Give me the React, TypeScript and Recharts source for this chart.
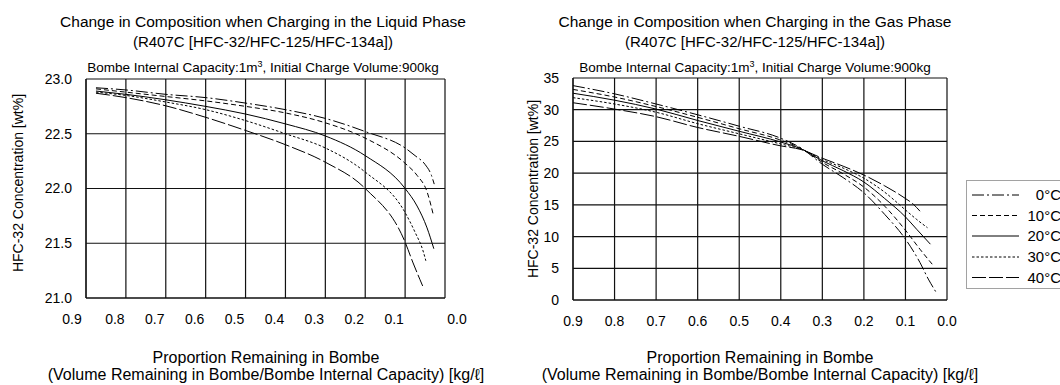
import React from 'react';
import { LineChart, Line, XAxis, YAxis, CartesianGrid } from 'recharts';

const FONT = '"Liberation Sans", Arial, Helvetica, sans-serif';

// Series (temperatures)
const seriesNames = ['0°C', '10°C', '20°C', '30°C', '40°C'];

// Liquid phase charging: proportion remaining (x) vs HFC-32 wt% (y)
const liquid0X = [0.875, 0.8, 0.7, 0.6, 0.5, 0.4, 0.3, 0.2, 0.1, 0.075, 0.05, 0.034, 0.027];
const liquid0Y = [22.92, 22.9, 22.86, 22.83, 22.78, 22.72, 22.64, 22.52, 22.37, 22.3, 22.22, 22.12, 22.04];
const liquid10X = [0.875, 0.8, 0.7, 0.6, 0.5, 0.4, 0.3, 0.2, 0.1, 0.07, 0.045, 0.03];
const liquid10Y = [22.91, 22.88, 22.84, 22.8, 22.75, 22.69, 22.6, 22.46, 22.23, 22.12, 21.97, 21.77];
const liquid20X = [0.875, 0.8, 0.7, 0.6, 0.5, 0.4, 0.3, 0.2, 0.1, 0.07, 0.045, 0.028];
const liquid20Y = [22.89, 22.86, 22.81, 22.75, 22.68, 22.59, 22.48, 22.3, 22.0, 21.84, 21.64, 21.45];
const liquid30X = [0.875, 0.8, 0.7, 0.6, 0.5, 0.4, 0.3, 0.2, 0.1, 0.075, 0.055, 0.048];
const liquid30Y = [22.88, 22.85, 22.79, 22.72, 22.62, 22.5, 22.37, 22.15, 21.78, 21.6, 21.43, 21.34];
const liquid40X = [0.875, 0.8, 0.7, 0.6, 0.5, 0.4, 0.3, 0.2, 0.1, 0.08, 0.063, 0.056];
const liquid40Y = [22.87, 22.83, 22.755, 22.65, 22.53, 22.4, 22.24, 22.0, 21.51, 21.32, 21.17, 21.11];

// Gas phase charging
const gas0X = [0.9, 0.8, 0.7, 0.6, 0.5, 0.4, 0.35, 0.3, 0.25, 0.2, 0.15, 0.1, 0.065, 0.045, 0.027];
const gas0Y = [33.8, 32.5, 30.9, 29.2, 27.4, 25.5, 23.9, 21.4, 19.3, 16.9, 13.5, 9.6, 5.9, 3.3, 1.3];
const gas10X = [0.9, 0.8, 0.7, 0.6, 0.5, 0.4, 0.35, 0.3, 0.25, 0.2, 0.15, 0.1, 0.065, 0.0325];
const gas10Y = [33.2, 32.0, 30.5, 28.8, 27.0, 25.2, 23.85, 21.7, 19.9, 17.8, 14.8, 11.0, 8.0, 5.4];
const gas20X = [0.9, 0.8, 0.7, 0.6, 0.5, 0.4, 0.35, 0.3, 0.25, 0.2, 0.15, 0.1, 0.073, 0.04];
const gas20Y = [32.6, 31.5, 30.1, 28.3, 26.6, 24.9, 23.8, 21.95, 20.4, 18.6, 16.0, 13.1, 11.15, 8.8];
const gas30X = [0.9, 0.8, 0.7, 0.6, 0.5, 0.4, 0.35, 0.3, 0.25, 0.2, 0.15, 0.1, 0.073, 0.047];
const gas30Y = [31.9, 30.9, 29.6, 27.8, 26.2, 24.6, 23.75, 22.15, 20.8, 19.2, 17.0, 14.2, 12.7, 11.4];
const gas40X = [0.9, 0.8, 0.7, 0.6, 0.5, 0.4, 0.35, 0.3, 0.25, 0.2, 0.15, 0.1, 0.081, 0.065];
const gas40Y = [31.1, 30.1, 28.9, 27.2, 25.8, 24.3, 23.7, 22.35, 21.1, 19.7, 18.0, 16.0, 15.1, 14.0];

// Tick values
const xTicks = [0.9, 0.8, 0.7, 0.6, 0.5, 0.4, 0.3, 0.2, 0.1, 0.0];
const liquidYTicks = [21.0, 21.5, 22.0, 22.5, 23.0];
const gasYTicks = [0, 5, 10, 15, 20, 25, 30, 35];

// Line styles per series
const dashStyles = ['12 3 2 3', '5 3', '', '2.5 2', '14 3'];

const toPoints = (xs: number[], ys: number[]) => xs.map((x, i) => ({ x, y: ys[i] }));

const liquidSeries = [
  toPoints(liquid0X, liquid0Y),
  toPoints(liquid10X, liquid10Y),
  toPoints(liquid20X, liquid20Y),
  toPoints(liquid30X, liquid30Y),
  toPoints(liquid40X, liquid40Y),
];
const gasSeries = [
  toPoints(gas0X, gas0Y),
  toPoints(gas10X, gas10Y),
  toPoints(gas20X, gas20Y),
  toPoints(gas30X, gas30Y),
  toPoints(gas40X, gas40Y),
];

const tickStyle = { fontSize: 14, fill: '#000', fontFamily: FONT };

// Left chart's printed x labels sit slightly off the grid lines in the source
const LiquidXTick = (props: any) => {
  const { x, y, payload } = props;
  const v = payload.value as number;
  const shift = v === 0 ? 12 : v >= 0.85 ? -14 : -11;
  return (
    <text x={x + shift} y={y} dy="0.71em" textAnchor="middle" fontSize={14} fill="#000" fontFamily={FONT}>
      {v.toFixed(1)}
    </text>
  );
};

type PanelProps = {
  series: { x: number; y: number }[][];
  yDomain: [number, number];
  yTicks: number[];
  yFmt: (v: number) => string;
  width: number;
  height: number;
  margin: { top: number; right: number; bottom: number; left: number };
  yWidth: number;
  xTick?: any;
};

function Panel({ series, yDomain, yTicks, yFmt, width, height, margin, yWidth, xTick }: PanelProps) {
  return (
    <LineChart width={width} height={height} margin={margin}>
      <CartesianGrid stroke="#111" strokeWidth={1.2} />
      <XAxis
        type="number"
        dataKey="x"
        domain={[0, 0.9]}
        reversed
        ticks={xTicks}
        interval={0}
        allowDataOverflow
        tickFormatter={(v: number) => v.toFixed(1)}
        axisLine={{ stroke: '#111', strokeWidth: 1.2 }}
        tickLine={false}
        tickSize={0}
        tickMargin={16}
        height={30}
        tick={xTick ?? tickStyle}
      />
      <YAxis
        type="number"
        domain={yDomain}
        ticks={yTicks}
        interval={0}
        allowDataOverflow
        tickFormatter={yFmt}
        axisLine={{ stroke: '#111', strokeWidth: 1.2 }}
        tickLine={false}
        tickSize={0}
        tickMargin={14}
        width={yWidth}
        tick={tickStyle}
      />
      {series.map((pts, i) => (
        <Line
          key={seriesNames[i]}
          data={pts}
          dataKey="y"
          name={seriesNames[i]}
          type="monotone"
          stroke="#000"
          strokeWidth={1}
          strokeDasharray={dashStyles[i] || undefined}
          dot={false}
          activeDot={false}
          isAnimationActive={false}
        />
      ))}
    </LineChart>
  );
}

const abs = (s: React.CSSProperties): React.CSSProperties => ({ position: 'absolute', ...s });

function Titles({ cx, phase }: { cx: number; phase: string }) {
  return (
    <>
      <div style={abs({ left: cx - 260, top: 12, width: 520, textAlign: 'center', fontSize: 15.5, lineHeight: '20px', whiteSpace: 'nowrap' })}>
        Change in Composition when Charging in the {phase} Phase
        <br />
        <span style={{ fontSize: 15 }}>(R407C [HFC-32/HFC-125/HFC-134a])</span>
      </div>
      <div style={abs({ left: cx - 230, top: 60, width: 460, textAlign: 'center', fontSize: 13.5, lineHeight: '16px', whiteSpace: 'nowrap' })}>
        Bombe Internal Capacity:1m
        <sup style={{ fontSize: 9, verticalAlign: 'super', lineHeight: 0 }}>3</sup>, Initial Charge Volume:900kg
      </div>
    </>
  );
}

function XTitle({ cx }: { cx: number }) {
  return (
    <div style={abs({ left: cx - 260, top: 349, width: 520, textAlign: 'center', fontSize: 16, lineHeight: '17px', whiteSpace: 'nowrap' })}>
      Proportion Remaining in Bombe
      <br />
      (Volume Remaining in Bombe/Bombe Internal Capacity) [kg/ℓ]
    </div>
  );
}

function YTitle({ cx, cy }: { cx: number; cy: number }) {
  return (
    <div
      style={abs({
        left: cx - 110,
        top: cy - 9,
        width: 220,
        height: 18,
        lineHeight: '18px',
        textAlign: 'center',
        fontSize: 14,
        transform: 'rotate(-90deg)',
        transformOrigin: '50% 50%',
        whiteSpace: 'nowrap',
      })}
    >
      HFC-32 Concentration [wt%]
    </div>
  );
}

function LegendBox() {
  const rowY = [195, 215.5, 236, 257, 277.5];
  return (
    <svg width={1060} height={385} style={abs({ left: 0, top: 0, pointerEvents: 'none' })}>
      <rect x={966.5} y={180.5} width={120} height={108} fill="#fff" stroke="#444" strokeWidth={1} strokeDasharray="1 1" />
      {seriesNames.map((n, i) => (
        <g key={n}>
          <line x1={972} y1={rowY[i]} x2={1019} y2={rowY[i]} stroke="#000" strokeWidth={1} strokeDasharray={dashStyles[i] || undefined} />
          <text x={1061} y={rowY[i]} dy="0.36em" textAnchor="end" fontSize={15} fontFamily={FONT} fill="#000">
            {n}
          </text>
        </g>
      ))}
    </svg>
  );
}

export default function App() {
  return (
    <div
      style={{
        position: 'absolute',
        left: 0,
        top: 0,
        width: 1060,
        height: 385,
        overflow: 'hidden',
        background: '#fff',
        fontFamily: FONT,
        color: '#000',
      }}
    >
      <div style={abs({ left: 0, top: 0 })}>
        <Panel
          series={liquidSeries}
          yDomain={[21, 23]}
          yTicks={liquidYTicks}
          yFmt={(v) => v.toFixed(1)}
          width={470}
          height={385}
          margin={{ top: 79, right: 25, bottom: 57, left: 0 }}
          yWidth={86}
          xTick={<LiquidXTick />}
        />
      </div>
      <div style={abs({ left: 500, top: 0 })}>
        <Panel
          series={gasSeries}
          yDomain={[0, 35]}
          yTicks={gasYTicks}
          yFmt={(v) => String(v)}
          width={470}
          height={385}
          margin={{ top: 78, right: 23, bottom: 55, left: 0 }}
          yWidth={73}
        />
      </div>
      <Titles cx={263} phase="Liquid" />
      <Titles cx={755} phase="Gas" />
      <XTitle cx={266} />
      <XTitle cx={760} />
      <YTitle cx={18} cy={183} />
      <YTitle cx={533} cy={189} />
      <LegendBox />
    </div>
  );
}
